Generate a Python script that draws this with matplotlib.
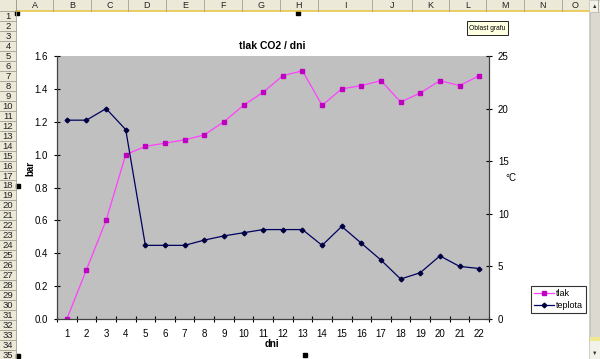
import numpy as np
import matplotlib.pyplot as plt
from matplotlib.patches import Rectangle
from matplotlib.lines import Line2D

plt.rcParams['font.family'] = ['Liberation Sans', 'DejaVu Sans']

# data
dni = list(range(1, 23))
tlak = [0.0, 0.3, 0.6, 1.0, 1.05, 1.07, 1.09, 1.12, 1.2, 1.3, 1.38, 1.48, 1.51,
        1.3, 1.4, 1.42, 1.45, 1.32, 1.375, 1.45, 1.42, 1.48]
teplota = [18.9, 18.9, 20.0, 18.0, 7.0, 7.0, 7.0, 7.5, 7.9, 8.2, 8.5, 8.5, 8.5,
           7.0, 8.8, 7.2, 5.6, 3.8, 4.4, 6.0, 5.0, 4.8]
columns = list("ABCDEFGHIJKLMNO")
rows = list(range(1, 36))

# spreadsheet layout in pixels
W, H = 600, 359
col_edges = [16, 53, 91, 128, 166, 204, 242, 280, 318, 372, 412, 449, 486, 524, 562, 598]
row_top, row_h = 11, 9.97
hdr_col = '#ece9d8'

fig = plt.figure(figsize=(W / 100, H / 100), dpi=100)

# --- excel window background (column/row headers, scrollbar) ---
ui = fig.add_axes([0, 0, 1, 1])
ui.set_xlim(0, W)
ui.set_ylim(H, 0)
ui.axis('off')

ui.add_patch(Rectangle((0, 0), W, H, color='white'))
ui.add_patch(Rectangle((0, 0), W, row_top, facecolor=hdr_col, edgecolor='none'))
ui.add_patch(Rectangle((0, 0), col_edges[0], H, facecolor=hdr_col, edgecolor='none'))
ui.plot([col_edges[0], 589], [row_top - 0.5, row_top - 0.5], color='#e8c848', lw=1.2)
for x in col_edges:
    ui.plot([x, x], [0, row_top], color='#a0a090', lw=0.6)
for i, c in enumerate(columns):
    xc = (col_edges[i] + min(col_edges[i + 1], 589)) / 2
    ui.text(xc, row_top / 2 + 0.5, c, ha='center', va='center', fontsize=6.5, color='#222222')
for i, r in enumerate(rows):
    y0 = row_top + i * row_h
    ui.plot([0, col_edges[0]], [y0, y0], color='#a0a090', lw=0.6)
    ui.text(col_edges[0] / 2, y0 + row_h / 2 + 0.5, str(r), ha='center', va='center',
            fontsize=6.8, color='#222222')
ui.plot([col_edges[0], col_edges[0]], [0, H], color='#a0a090', lw=0.6)

# scrollbar
ui.add_patch(Rectangle((589, 0), 11, H, facecolor='#f3f2ea', edgecolor='#c8c8c0', lw=0.6))
ui.add_patch(Rectangle((589.5, 12), 10, 325, facecolor='#dcdad0', edgecolor='#c0beb4', lw=0.6))
ui.add_patch(Rectangle((589.5, 337), 10, 4, facecolor='#f0e890', edgecolor='none'))
ui.text(594.5, 6, '▲', ha='center', va='center', fontsize=4, color='#303030')
ui.text(594.5, 353, '▼', ha='center', va='center', fontsize=4, color='#303030')

# selection handles of the chart object
for hx, hy in [(17, 13), (298, 13), (18, 186), (18, 356), (305, 355)]:
    ui.add_patch(Rectangle((hx - 2, hy - 2), 4, 4, color='black'))

# tooltip
ui.add_patch(Rectangle((467, 21), 41, 14, facecolor='#ffffe1', edgecolor='black', lw=0.6))
ui.text(487.5, 28, 'Oblast grafu', ha='center', va='center', fontsize=4.8)

# --- chart ---
left, right, top, bottom = 57, 489, 56, 319
ax = fig.add_axes([left / W, 1 - bottom / H, (right - left) / W, (bottom - top) / H])
ax.set_facecolor('#c0c0c0')
ax.plot(dni, tlak, color='#ff40ff', lw=0.9, marker='s', markersize=3.0,
        markerfacecolor='#c000c0', markeredgecolor='#c000c0', zorder=3)
ax.set_xlim(0.5, 22.5)
ax.set_ylim(0, 1.6)
ax.set_yticks(np.arange(0, 1.61, 0.2))
ax.set_yticklabels([f'{v:.1f}' for v in np.arange(0, 1.61, 0.2)])
ax.set_xticks(dni)
ax.set_xticks(np.arange(0.5, 23, 1), minor=True)
ax.tick_params(axis='x', which='major', length=0, pad=7, labelsize=7)
ax.tick_params(axis='x', which='minor', length=5, direction='inout', width=0.8)
ax.tick_params(axis='y', length=5, direction='inout', width=0.8, labelsize=7, pad=4)

ax2 = ax.twinx()
ax2.plot(dni, teplota, color='#000060', lw=0.9, marker='D', markersize=2.4,
         markerfacecolor='#000040', markeredgecolor='#000040', zorder=3)
ax2.set_ylim(0, 25)
ax2.set_yticks(range(0, 26, 5))
ax2.tick_params(axis='y', length=5, direction='inout', width=0.8, labelsize=7, pad=4)

for a in (ax, ax2):
    a.spines['top'].set_visible(False)
    for s in ('left', 'right', 'bottom'):
        a.spines[s].set_color('#404040')
        a.spines[s].set_linewidth(0.8)

fig.text(272 / W, 1 - 46 / H, 'tlak CO2 / dni', ha='center', va='center',
         fontsize=7.5, fontweight='bold')
fig.text(30 / W, 1 - 168 / H, 'bar', ha='center', va='center', rotation=90,
         fontsize=7, fontweight='bold')
fig.text(511 / W, 1 - 178 / H, '°C', ha='center', va='center', fontsize=7)
fig.text(272 / W, 1 - 344 / H, 'dni', ha='center', va='center', fontsize=7,
         fontweight='bold')

handles = [Line2D([], [], color='#ff40ff', lw=0.9, marker='s', markersize=3.0,
                  markerfacecolor='#c000c0', markeredgecolor='#c000c0'),
           Line2D([], [], color='#000060', lw=0.9, marker='D', markersize=2.4,
                  markerfacecolor='#000040', markeredgecolor='#000040')]
leg = fig.legend(handles, ['tlak', 'teplota'], loc='upper left',
                 bbox_to_anchor=(531 / W, 1 - 286 / H), fontsize=6.5,
                 frameon=True, fancybox=False, handlelength=2.2, handletextpad=0.3,
                 borderpad=0.3, labelspacing=0.35, borderaxespad=0)
leg.get_frame().set_edgecolor('black')
leg.get_frame().set_linewidth(0.8)

fig.savefig('out.png', dpi=100)
